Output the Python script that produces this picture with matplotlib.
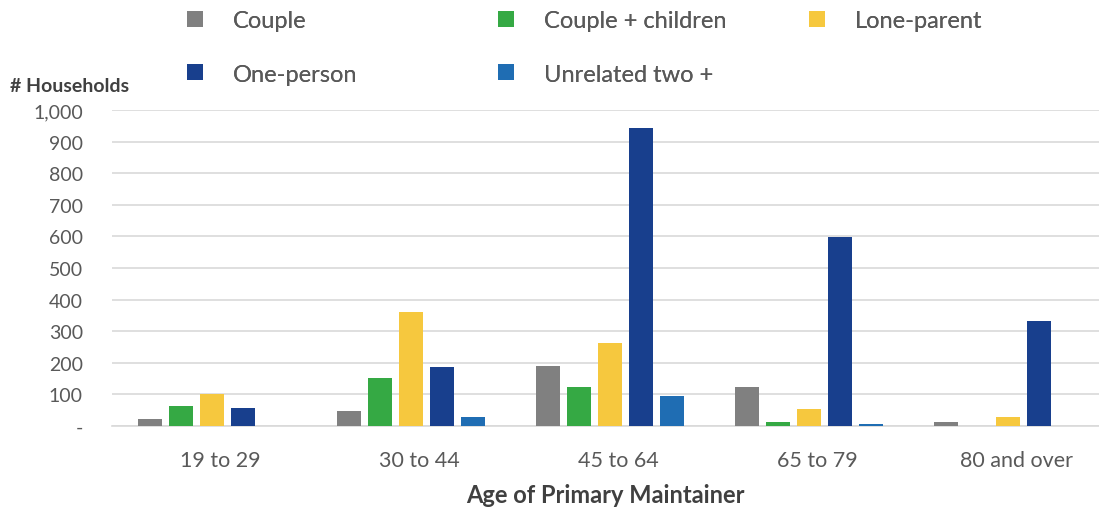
import matplotlib
matplotlib.use("Agg")
import matplotlib.pyplot as plt
import matplotlib.transforms as mtransforms
import numpy as np
from matplotlib.ticker import FixedLocator, FuncFormatter

categories = ["19 to 29", "30 to 44", "45 to 64", "65 to 79", "80 and over"]
series_names = ["Couple", "Couple + children", "Lone-parent", "One-person", "Unrelated two +"]
couple = [23, 47, 190, 123, 13]
couple_children = [63, 152, 123, 13, 0]
lone_parent = [101, 361, 262, 54, 28]
one_person = [58, 187, 943, 598, 332]
unrelated = [0, 29, 95, 6, 0]
series_values = [couple, couple_children, lone_parent, one_person, unrelated]
colors = ["#808080", "#35a944", "#f6c83e", "#183f8d", "#1f6db3"]
yticks = [0, 100, 200, 300, 400, 500, 600, 700, 800, 900, 1000]

plt.rcParams['font.family'] = ['Lato', 'DejaVu Sans']
W, H = 1099, 510
fig = plt.figure(figsize=(W / 100, H / 100), dpi=100)
ax = fig.add_axes([112 / W, (H - 427) / H, (W - 112) / W, (427 - 111) / H])

x = np.arange(len(categories))
step = 0.156
width = 0.12
handles = []
for i, (name, vals, c) in enumerate(zip(series_names, series_values, colors)):
    h = ax.bar(x + (i - 2) * step, vals, width, color=c, label=name, zorder=3)
    handles.append(h)

ax.set_xlim(-0.503, 4.457)
ax.set_ylim(0, 1000)
ax.yaxis.set_major_locator(FixedLocator(yticks))
ax.yaxis.set_major_formatter(FuncFormatter(lambda v, p: "-" if v == 0 else f"{int(v):,}"))
ax.grid(axis='y', color='#d9d9d9', linewidth=1.2, zorder=0)
ax.set_axisbelow(True)
for s in ["top", "right", "left"]:
    ax.spines[s].set_visible(False)
ax.spines["bottom"].set_color("#d9d9d9")
ax.spines["bottom"].set_linewidth(1.2)
ax.tick_params(axis='y', length=0, pad=21, labelsize=14, labelcolor="#595959")
ax.tick_params(axis='x', length=0, pad=17, labelsize=15.5, labelcolor="#595959")
ax.set_xticks(x)
ax.set_xticklabels(categories)
offset = mtransforms.ScaledTranslation(0.08, 0, fig.dpi_scale_trans)
for lbl in ax.get_xticklabels():
    lbl.set_transform(lbl.get_transform() + offset)

ax.set_xlabel("Age of Primary Maintainer", fontsize=17, fontweight='bold', color="#404040", labelpad=10)
fig.text(10 / W, 1 - 87 / H, "# Households", fontsize=14, fontweight='bold', color="#404040",
         ha='left', va='center')

# legend entries placed in a 3-column row-major grid
leg_x = [187, 498, 809, 187, 498]
leg_y = [22, 22, 22, 75, 75]
for h, name, lx, ly in zip(handles, series_names, leg_x, leg_y):
    lg = fig.legend(handles=[h], labels=[name], loc='center left',
                    bbox_to_anchor=(lx / W, 1 - ly / H), frameon=False,
                    fontsize=17, handlelength=0.68, handleheight=0.68, handletextpad=1.25,
                    borderpad=0, borderaxespad=0, labelcolor="#595959")
    fig.add_artist(lg)

fig.savefig("out.png", dpi=100)
